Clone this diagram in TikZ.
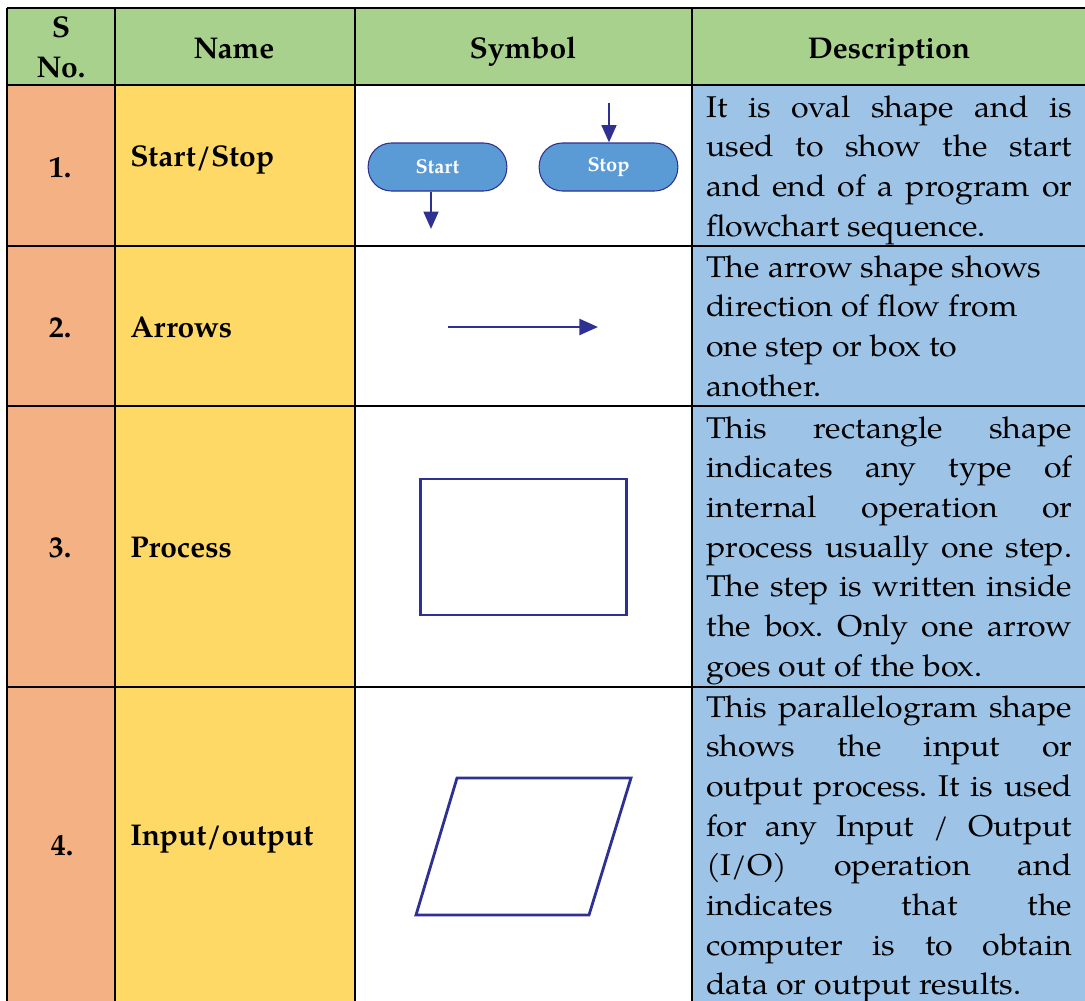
\documentclass[tikz,border=0pt]{standalone}
\usepackage{fontspec}
\setmainfont{TeX Gyre Pagella}
\newfontfamily\descfont{TeX Gyre Pagella}[FakeStretch=1.07]
\usetikzlibrary{arrows.meta}
\frenchspacing

\definecolor{hdrgreen}{HTML}{A9D18E}
\definecolor{numsalmon}{HTML}{F4B183}
\definecolor{nameyellow}{HTML}{FFD966}
\definecolor{descblue}{HTML}{9DC3E6}
\definecolor{symblue}{HTML}{2E3192}
\definecolor{termfill}{HTML}{5B9BD5}

\tikzset{
  grid/.style={line width=1.2pt, black},
  hdr/.style={font=\fontsize{22.5}{27}\selectfont\bfseries, inner sep=0pt, anchor=base},
  namelbl/.style={font=\fontsize{22.5}{27}\selectfont\bfseries, inner sep=0pt, anchor=base west},
  dtext/.style={font=\descfont\fontsize{22.5}{27}\selectfont, inner sep=0pt, anchor=base west},
  term/.style={draw=symblue, line width=0.8pt, fill=termfill, rounded corners=17.5pt,
    minimum width=104pt, minimum height=36pt, inner sep=0pt, text=white,
    font=\fontsize{15}{18}\selectfont\bfseries},
  flow/.style={draw=symblue, line width=1.9pt, -{Triangle[length=13pt,width=11pt]}},
  flowwide/.style={draw=symblue, line width=1.9pt, -{Triangle[length=14pt,width=12pt]}},
  symline/.style={draw=symblue, line width=2.1pt},
}

\newcommand\descJ[3]{\node[dtext] (#1) at (706,#2) {\makebox[274.5pt][s]{#3}};}
\newcommand\descL[3]{\node[dtext] (#1) at (706,#2) {#3};}

\begin{document}
\begin{tikzpicture}[x=0.75pt,y=-0.75pt]
\useasboundingbox (0,0) rectangle (1085,1000);

% cell backgrounds and rules
\begin{scope}
  \clip (0,0) rectangle (1085,1000);
  \fill[hdrgreen]   (7,8)    rectangle (1100,85);
  \fill[numsalmon]  (7,85)   rectangle (115,1020);
  \fill[nameyellow] (115,85) rectangle (355,1020);
  \fill[white]      (355,85) rectangle (692,1020);
  \fill[descblue]   (692,85) rectangle (1100,1020);
  \foreach \yy in {8,85,246,406,687}
    \draw[grid] (7,\yy) -- (1100,\yy);
  \foreach \xx in {7,115,355,692}
    \draw[grid] (\xx,8) -- (\xx,1020);
\end{scope}

% header row
\node[hdr] (hS)    at (61,37)  {S};
\node[hdr] (hNo)   at (61,77)  {No.};
\node[hdr] (hName) at (234,58) {Name};
\node[hdr] (hSym)  at (523,58) {Symbol};
\node[hdr] (hDesc) at (889,58) {Description};

% serial numbers
\node[hdr] (n1) at (60,177) {1.};
\node[hdr] (n2) at (60,337) {2.};
\node[hdr] (n3) at (60,557) {3.};
\node[hdr] (n4) at (62,855) {4.};

% names
\node[namelbl] (m1) at (130,166) {Start/Stop};
\node[namelbl] (m2) at (130,337) {Arrows};
\node[namelbl] (m3) at (130,557) {Process};
\node[namelbl] (m4) at (130,845) {Input/output};

% symbol: terminals
\node[term] (start) at (437.5,167) {Start};
\node[term] (stop)  at (608.5,167) {\raisebox{2pt}{Stop}};
\coordinate (startout) at (431,229);
\coordinate (stopin)   at (609,103);
\draw[flow] (startout |- start.south) -- (startout);
\draw[flow] (stopin) -- (stopin |- stop.north);

% symbol: flow arrow
\coordinate (arrA) at (448,327);
\coordinate (arrB) at (598,327);
\draw[flowwide] (arrA) -- (arrB);

% symbol: process box
\node[symline, minimum width=155pt, minimum height=102pt, inner sep=0pt] (proc) at (523.5,547) {};

% symbol: input/output parallelogram
\draw[symline, line join=miter] (457,778) -- (631,778) -- (589,915) -- (416,915) -- cycle;

% descriptions
\descJ{d1a}{117}{It is oval shape and is}
\descJ{d1b}{156.7}{used to show the start}
\descJ{d1c}{196.4}{and end of a program or}
\descL{d1d}{236.1}{flowchart sequence.}

\descL{d2a}{277}{The arrow shape shows}
\descL{d2b}{316.7}{direction of flow from}
\descL{d2c}{356.4}{one step or box to}
\descL{d2d}{396.1}{another.}

\descJ{d3a}{438}{This rectangle shape}
\descJ{d3b}{477.7}{indicates any type of}
\descJ{d3c}{517.4}{internal operation or}
\descJ{d3d}{557.1}{process usually one step.}
\descJ{d3e}{596.8}{The step is written inside}
\descJ{d3f}{636.5}{the box. Only one arrow}
\descL{d3g}{676.2}{goes out of the box.}

\descJ{d4a}{717}{This parallelogram shape}
\descJ{d4b}{756.7}{shows the input or}
\descJ{d4c}{796.4}{output process. It is used}
\descJ{d4d}{836.1}{for any Input / Output}
\descJ{d4e}{875.8}{(I/O) operation and}
\descJ{d4f}{915.5}{indicates that the}
\descJ{d4g}{955.2}{computer is to obtain}
\descL{d4h}{994.9}{data or output results.}
\end{tikzpicture}
\end{document}
